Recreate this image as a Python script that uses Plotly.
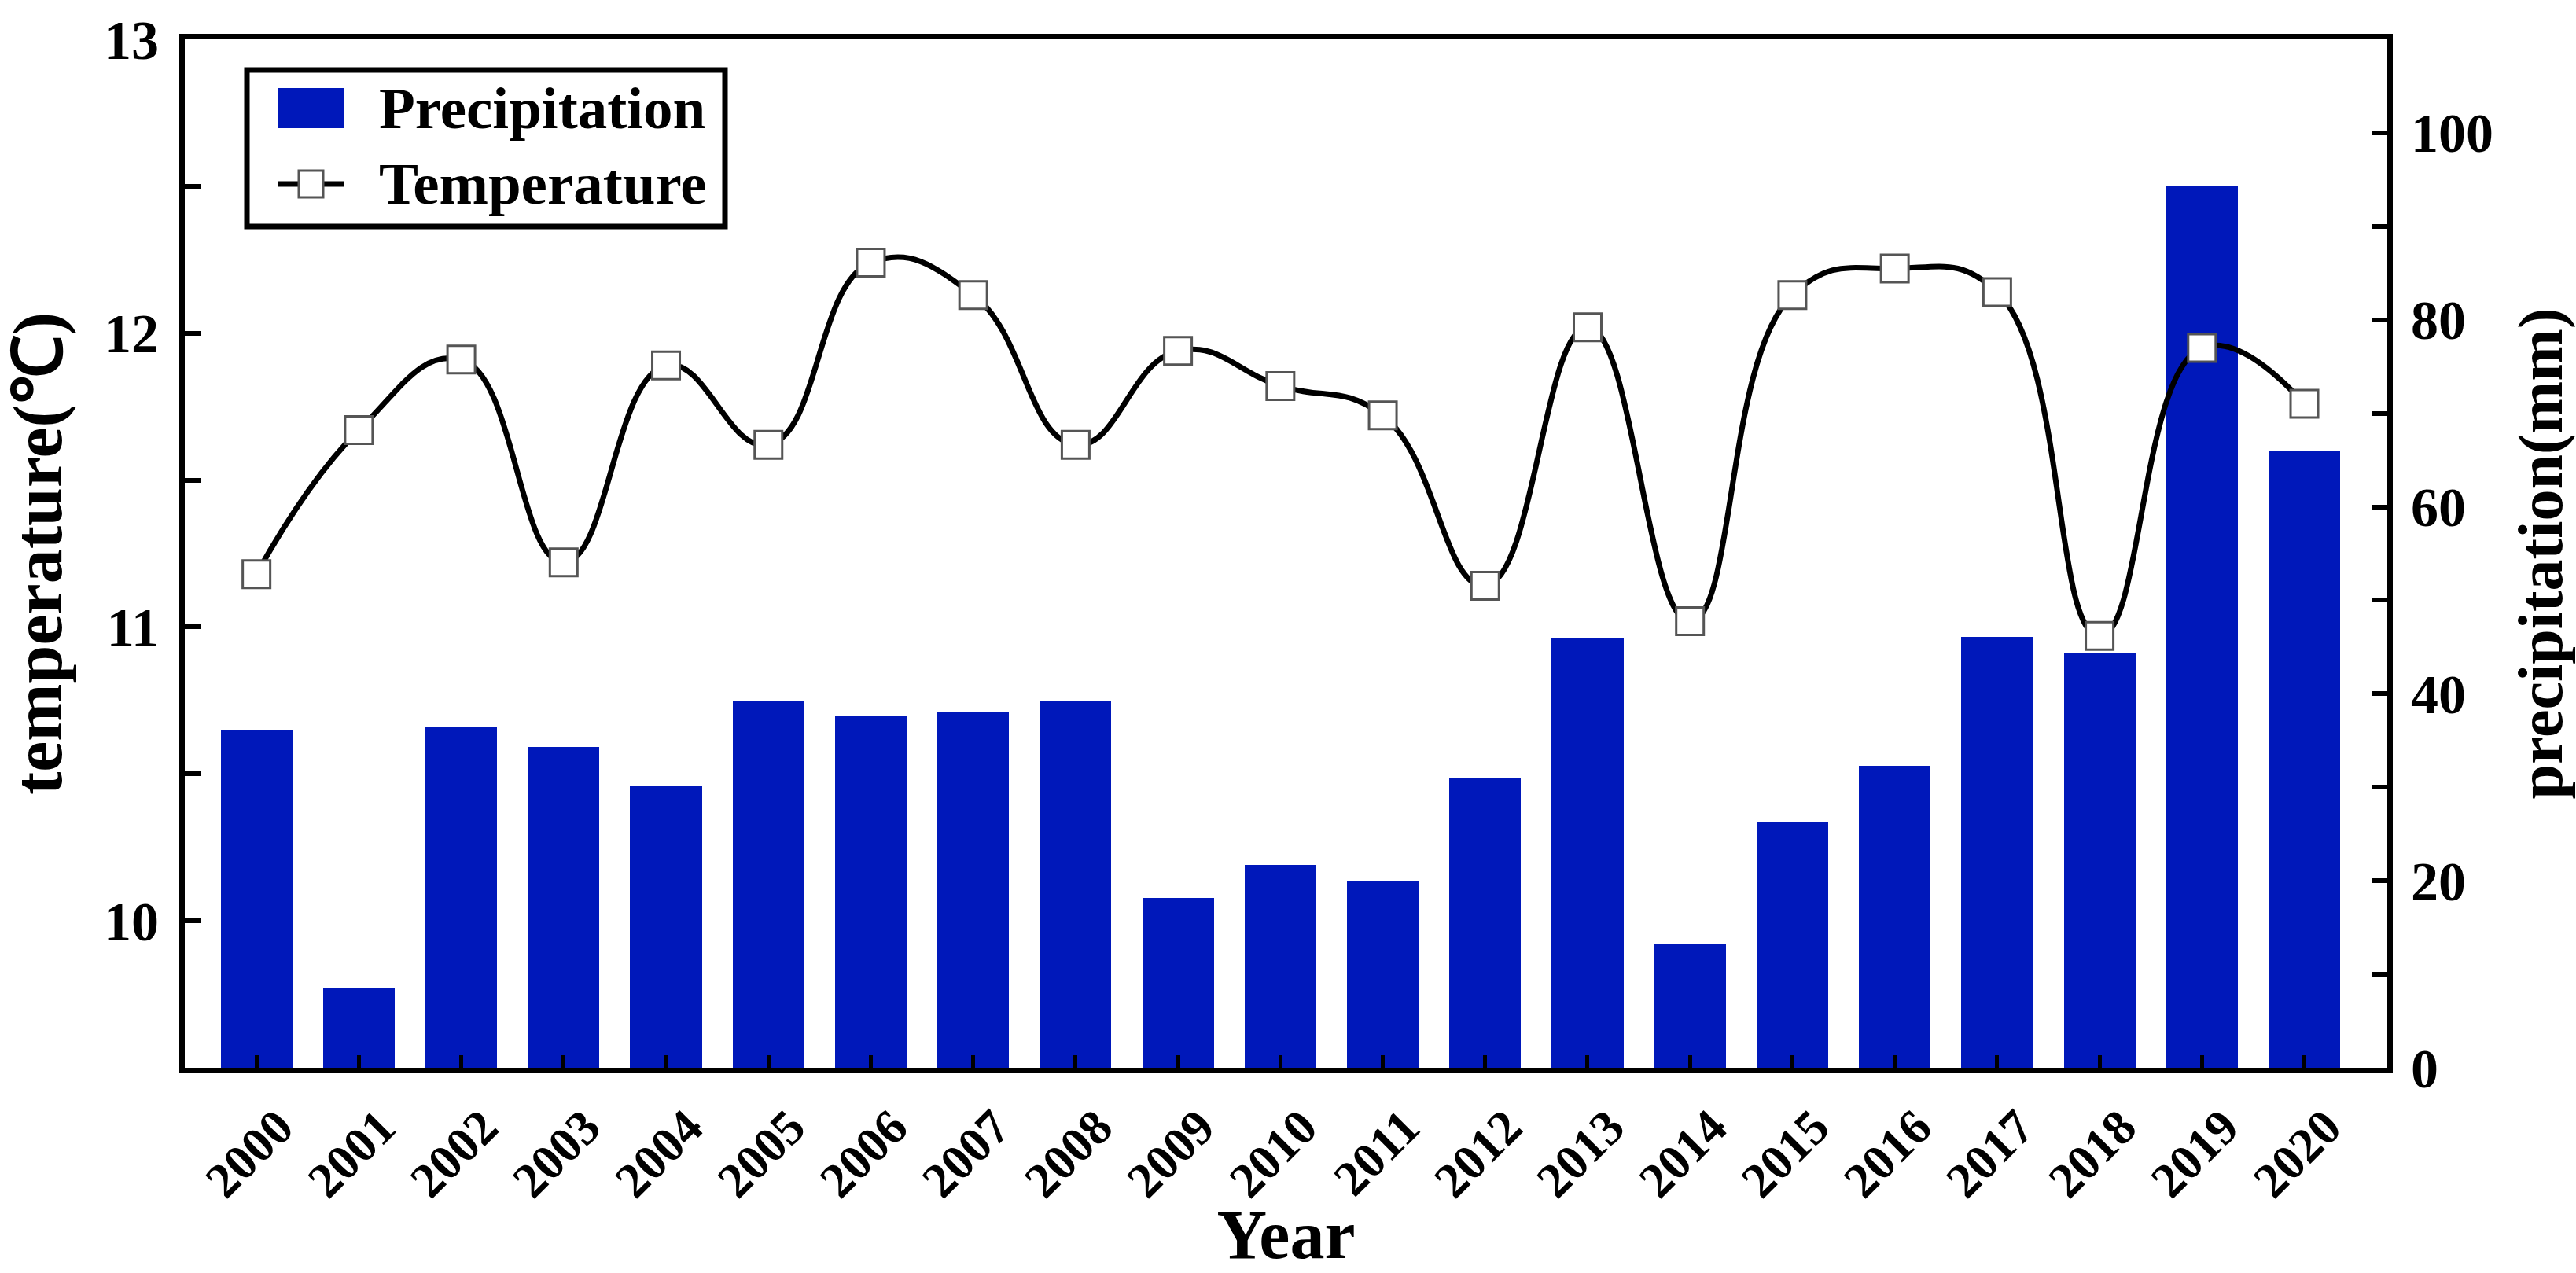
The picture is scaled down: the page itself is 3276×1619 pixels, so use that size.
import plotly.graph_objects as go

# ---------------- data ----------------
years = [2000, 2001, 2002, 2003, 2004, 2005, 2006, 2007, 2008, 2009, 2010,
         2011, 2012, 2013, 2014, 2015, 2016, 2017, 2018, 2019, 2020]
year_labels = [str(y) for y in years]
precipitation = [36.1, 8.5, 36.5, 34.3, 30.2, 39.3, 37.6, 38.0, 39.3, 18.2, 21.7,
                 19.9, 31.0, 45.9, 13.3, 26.2, 32.3, 46.1, 44.4, 94.3, 66.0]
temperature = [11.18, 11.67, 11.91, 11.22, 11.89, 11.62, 12.24, 12.13, 11.62, 11.94, 11.82,
               11.72, 11.14, 12.02, 11.02, 12.13, 12.22, 12.14, 10.97, 11.95, 11.76]
temp_ticks = [10, 11, 12, 13]
precip_ticks = [0, 20, 40, 60, 80, 100]

# ---------------- style ----------------
W, H = 3276, 1619
L, R, T, B = 235, 240, 50, 261
FONT = "Liberation Serif"
BLUE = "rgb(0,24,186)"
AXW = 7

def px(xp):
    return (xp - L) / (W - L - R)

def py(yp):
    return (H - B - yp) / (H - T - B)

fig = go.Figure()

fig.add_trace(go.Bar(
    x=years, y=precipitation, name="Precipitation",
    marker=dict(color=BLUE, line=dict(width=0)),
    width=0.7, yaxis="y", showlegend=False,
))
fig.add_trace(go.Scatter(
    x=years, y=temperature, name="Temperature", yaxis="y2",
    mode="lines+markers",
    line=dict(color="black", width=7, shape="spline", smoothing=1.3),
    marker=dict(symbol="square", size=35, color="white",
                line=dict(color="#555555", width=3)),
    showlegend=False,
))

tickfont = dict(family=FONT, size=70, color="black", weight="bold")
xtickfont = dict(family=FONT, size=63, color="black", weight="bold")
titlefont = dict(family=FONT, size=88, color="black", weight="bold")
rtitlefont = dict(family=FONT, size=80, color="black", weight="bold")

fig.update_layout(
    width=W, height=H,
    margin=dict(l=L, r=R, t=T, b=B, autoexpand=False),
    paper_bgcolor="white", plot_bgcolor="white",
    bargap=0,
    xaxis=dict(
        range=[1999.3, 2020.81],
        tickmode="array", tickvals=years, ticktext=year_labels,
        tickangle=-45, tickfont=xtickfont,
        ticks="inside", ticklen=16, tickwidth=5, tickcolor="black",
        showline=True, linecolor="black", linewidth=AXW, mirror=True,
        showgrid=False, zeroline=False,
        ticklabelstandoff=6, ticklabelshift=28,
        title=dict(text="Year", font=titlefont, standoff=30),
        automargin=False,
    ),
    yaxis=dict(
        side="right",
        range=[0, 110],
        tickmode="array", tickvals=precip_ticks,
        tickfont=tickfont,
        ticks="inside", ticklen=20, tickwidth=6, tickcolor="black",
        minor=dict(ticks="inside", dtick=10, tick0=0, ticklen=20, tickwidth=6,
                   tickcolor="black", showgrid=False),
        showline=True, linecolor="black", linewidth=AXW,
        showgrid=False, zeroline=False,
        ticklabelstandoff=9,
        title=dict(text="precipitation(mm)", font=rtitlefont, standoff=40),
        automargin=False,
    ),
    yaxis2=dict(
        overlaying="y", side="left",
        range=[9.5, 13],
        tickmode="array", tickvals=temp_ticks,
        tickfont=tickfont,
        ticks="inside", ticklen=20, tickwidth=6, tickcolor="black",
        minor=dict(ticks="inside", dtick=0.5, tick0=9.5, ticklen=20, tickwidth=6,
                   tickcolor="black", showgrid=False),
        showline=True, linecolor="black", linewidth=AXW,
        showgrid=False, zeroline=False,
        ticklabelstandoff=12,
        title=dict(text="temperature(℃)", font=titlefont, standoff=40),
        automargin=False,
    ),
)

# ---------------- custom legend ----------------
shapes = [
    dict(type="rect", xref="paper", yref="paper",
         x0=px(314), x1=px(922), y0=py(288), y1=py(89),
         line=dict(color="black", width=7), fillcolor="white", layer="above"),
    dict(type="rect", xref="paper", yref="paper",
         x0=px(354), x1=px(437), y0=py(163), y1=py(112),
         line=dict(width=0), fillcolor=BLUE, layer="above"),
    dict(type="line", xref="paper", yref="paper",
         x0=px(354), x1=px(437), y0=py(234), y1=py(234),
         line=dict(color="black", width=7), layer="above"),
    dict(type="rect", xref="paper", yref="paper",
         x0=px(380), x1=px(411), y0=py(251), y1=py(217),
         line=dict(color="#555555", width=3), fillcolor="white", layer="above"),
]
legfont = dict(family=FONT, size=75, color="black", weight="bold")
annotations = [
    dict(text="Precipitation", xref="paper", yref="paper", x=px(480), y=py(138),
         xanchor="left", yanchor="middle", showarrow=False, font=legfont),
    dict(text="Temperature", xref="paper", yref="paper", x=px(480), y=py(234),
         xanchor="left", yanchor="middle", showarrow=False, font=legfont),
]
fig.update_layout(shapes=shapes, annotations=annotations)

fig.write_html("out.html", config={"displayModeBar": False},
               post_script="document.body.style.margin='0';document.body.style.overflow='hidden';")
